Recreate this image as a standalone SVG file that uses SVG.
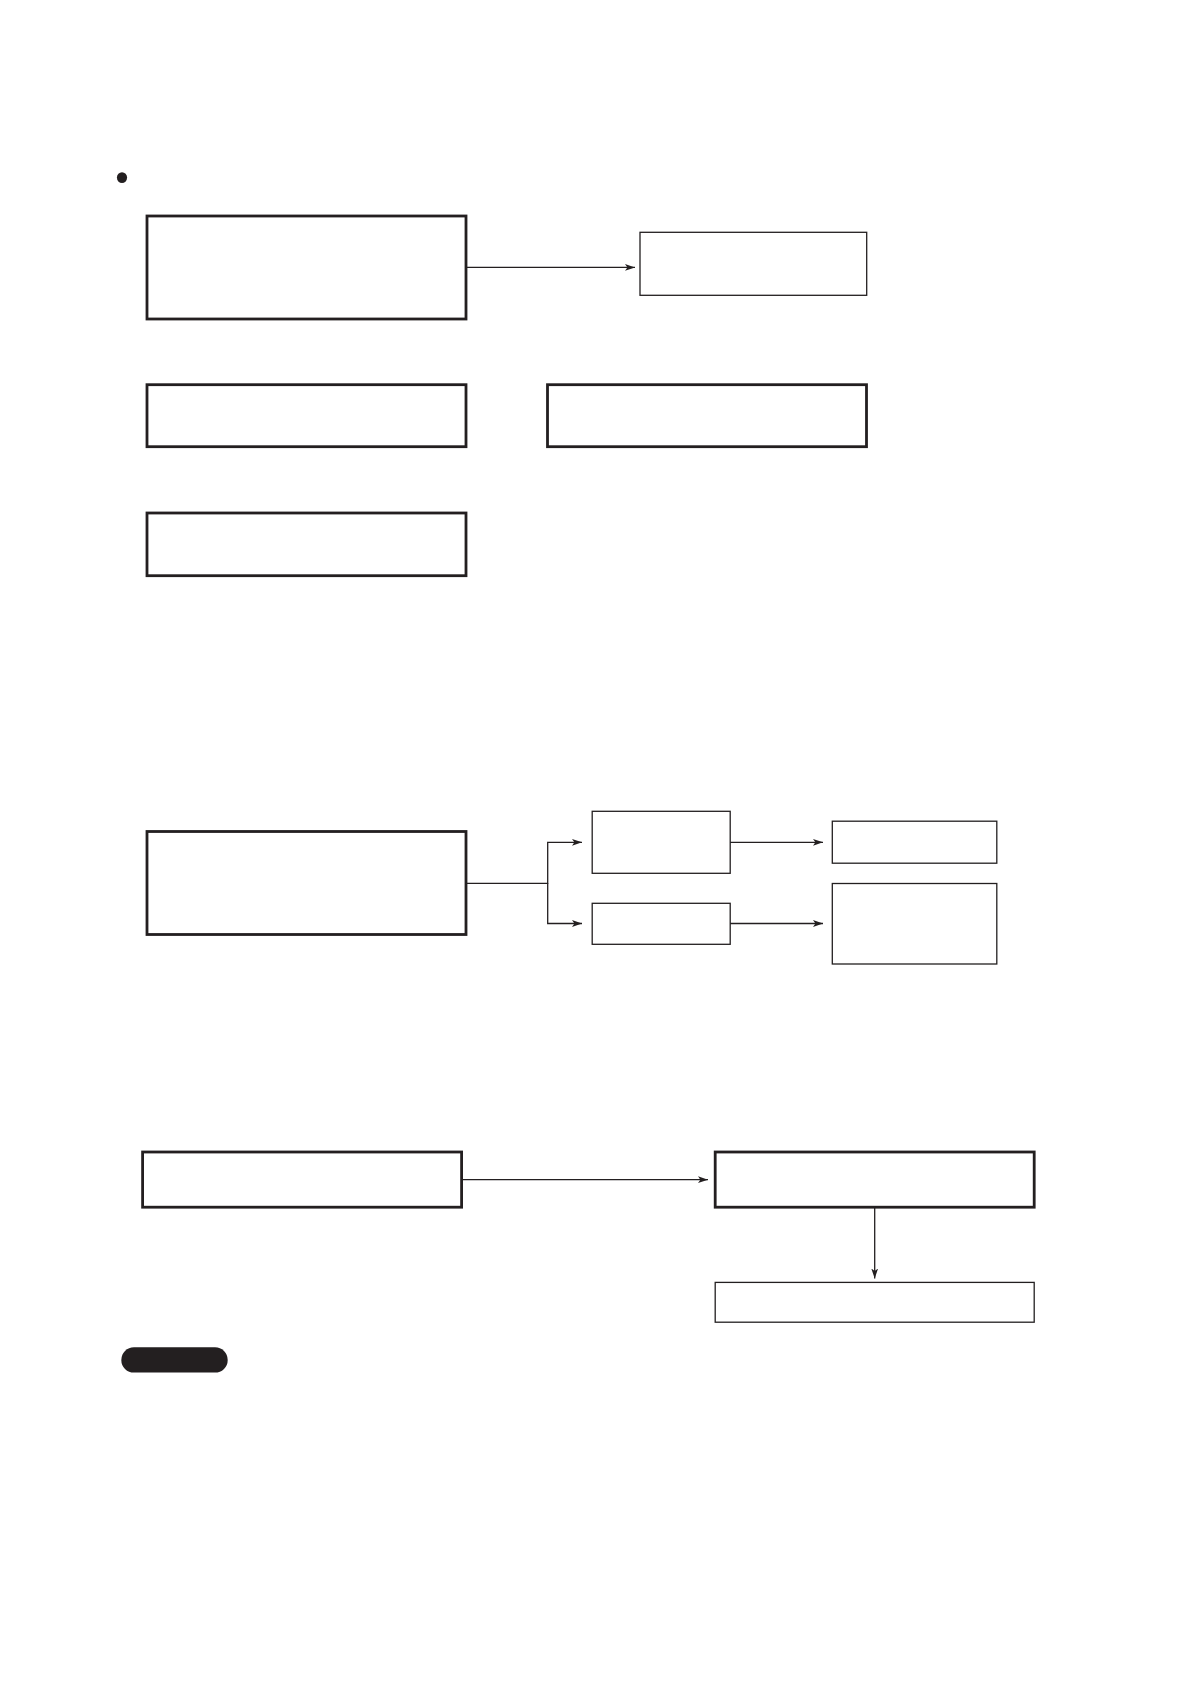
<svg xmlns="http://www.w3.org/2000/svg" width="1190" height="1684" viewBox="0 0 1190 1684">
<style>
.thick{fill:#fff;stroke:#231f20;stroke-width:2.8}
.thin{fill:#fff;stroke:#231f20;stroke-width:1.3}
.conn{fill:none;stroke:#231f20;stroke-width:1.3}
</style>
<defs>
<marker id="ah" markerWidth="11" markerHeight="8" refX="10" refY="4" orient="auto" markerUnits="userSpaceOnUse">
<path d="M0,0.6 L10,4 L0,7.4 L2.4,4 Z" fill="#231f20"/>
</marker>
</defs>
<rect width="1190" height="1684" fill="#fff"/>
<ellipse cx="122" cy="177.6" rx="5.1" ry="5.4" fill="#231f20"/>
<g id="nA"><rect class="thick" x="147" y="216" width="319" height="103"/></g>
<g id="nB"><rect class="thin" x="640" y="232.3" width="226.7" height="63"/></g>
<g id="nC"><rect class="thick" x="147" y="384.7" width="319" height="62"/></g>
<g id="nD"><rect class="thick" x="547.5" y="384.7" width="319" height="62"/></g>
<g id="nE"><rect class="thick" x="147" y="513" width="319" height="62.7"/></g>
<g id="nF"><rect class="thick" x="147" y="831.5" width="319" height="103"/></g>
<g id="nG"><rect class="thin" x="592.2" y="811.3" width="138" height="62"/></g>
<g id="nH"><rect class="thin" x="592.2" y="903.3" width="138" height="41"/></g>
<g id="nI"><rect class="thin" x="832.3" y="821.2" width="164.5" height="42"/></g>
<g id="nJ"><rect class="thin" x="832.3" y="883.5" width="164.5" height="80.5"/></g>
<g id="nK"><rect class="thick" x="142.6" y="1152" width="319" height="55.2"/></g>
<g id="nL"><rect class="thick" x="715.2" y="1152" width="319" height="55.2"/></g>
<g id="nM"><rect class="thin" x="715.2" y="1282.4" width="319" height="39.8"/></g>
<rect id="pill" x="121.3" y="1347.2" width="106.4" height="25.4" rx="12.7" fill="#231f20"/>
<g id="connectors">
<path class="conn" d="M466,267.4 H635" marker-end="url(#ah)"/>
<path class="conn" d="M466,883.3 H547.7 V842.3 H582" marker-end="url(#ah)"/>
<path class="conn" d="M547.7,883.3 V923.5 H582" marker-end="url(#ah)"/>
<path class="conn" d="M730.2,842.3 H823" marker-end="url(#ah)"/>
<path class="conn" d="M730.2,923.5 H823" marker-end="url(#ah)"/>
<path class="conn" d="M461.6,1179.7 H708" marker-end="url(#ah)"/>
<path class="conn" d="M874.7,1207.2 V1278.5" marker-end="url(#ah)"/>
</g>
</svg>
